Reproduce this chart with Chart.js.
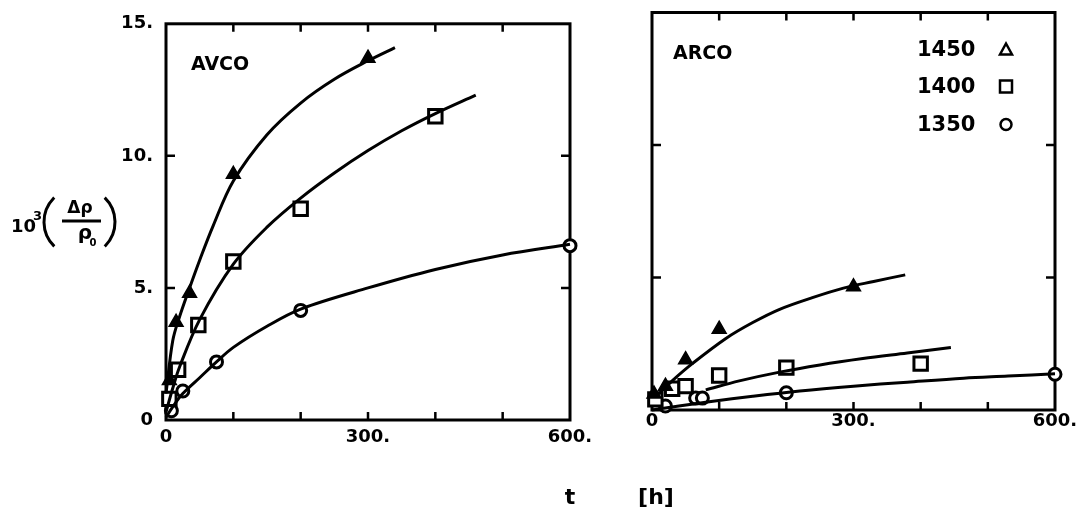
<!DOCTYPE html>
<html>
<head>
<meta charset="utf-8">
<script src="https://cdn.jsdelivr.net/npm/chart.js@4.4.1/dist/chart.umd.min.js"></script>
<style>
html,body{margin:0;padding:0;background:#fff;}
#wrap{position:relative;width:1086px;height:510px;background:#fff;}
#wrap canvas{position:absolute;left:0;top:0;}
</style>
</head>
<body>
<div id="wrap">
<canvas id="c1" width="1086" height="510"></canvas>
<canvas id="c2" width="1086" height="510"></canvas>
</div>
<script>
// ---------------- data ----------------
const seriesLabels = ['1450', '1400', '1350'];
const panelNames = ['AVCO', 'ARCO'];
const xTicks = [0, 100, 200, 300, 400, 500, 600];
const xTickLabels = ['0', '', '', '300.', '', '', '600.'];
const yTicks = [0, 5, 10, 15];
const yTickLabels = ['0', '5.', '10.', '15.'];

// AVCO measured points (t [h], 10^3 dRho/Rho0)
const avco1450T = [5, 15, 35, 100, 300];
const avco1450V = [1.5, 3.7, 4.8, 9.3, 13.7];
const avco1400T = [5, 18, 48, 100, 200, 400];
const avco1400V = [0.8, 1.9, 3.6, 6.0, 8.0, 11.5];
const avco1350T = [8, 25, 75, 200, 600];
const avco1350V = [0.35, 1.1, 2.2, 4.15, 6.6];
// AVCO fitted curves
const avcoFit1450T = [0, 10, 20, 35, 50, 70, 100, 150, 200, 250, 300, 340];
const avcoFit1450V = [1.0, 3.0, 3.9, 5.0, 6.05, 7.35, 9.05, 10.8, 12.0, 12.9, 13.6, 14.1];
const avcoFit1400T = [0, 10, 20, 50, 100, 150, 200, 250, 300, 350, 400, 460];
const avcoFit1400V = [0.3, 1.2, 2.0, 3.8, 5.9, 7.3, 8.4, 9.35, 10.2, 10.95, 11.6, 12.3];
const avcoFit1350T = [0, 10, 25, 50, 75, 100, 150, 200, 300, 400, 500, 600];
const avcoFit1350V = [0.1, 0.5, 1.0, 1.6, 2.2, 2.75, 3.55, 4.2, 5.0, 5.7, 6.25, 6.65];

// ARCO measured points
const arco1450T = [3, 20, 50, 100, 300];
const arco1450V = [0.6, 0.9, 1.9, 3.05, 4.65];
const arco1400T = [5, 30, 50, 100, 200, 400];
const arco1400V = [0.4, 0.8, 0.9, 1.3, 1.6, 1.75];
const arco1350T = [20, 65, 75, 200, 600];
const arco1350V = [0.15, 0.45, 0.45, 0.65, 1.35];
// ARCO fitted curves
const arcoFit1450T = [10, 30, 60, 110, 150, 190, 240, 285, 330, 377];
const arcoFit1450V = [0.6, 1.1, 1.75, 2.7, 3.3, 3.8, 4.25, 4.6, 4.85, 5.1];
const arcoFit1400T = [80, 130, 190, 250, 314, 380, 445];
const arcoFit1400V = [0.76, 1.1, 1.43, 1.7, 1.94, 2.15, 2.36];
const arcoFit1350T = [0, 40, 88, 150, 220, 300, 380, 464, 530, 600];
const arcoFit1350V = [0.0, 0.15, 0.32, 0.52, 0.72, 0.9, 1.05, 1.2, 1.28, 1.37];

// ---------------- helpers ----------------
const FONT = 'DejaVu Sans';
const xy = (ts, vs) => ts.map((t, i) => ({x: t, y: vs[i]}));

function curve(ts, vs) {
  return {type: 'scatter', data: xy(ts, vs), showLine: true, pointRadius: 0,
    borderColor: '#000', borderWidth: 3, tension: 0.35, clip: false};
}
function marks(ts, vs, style, label) {
  const base = {type: 'scatter', label: label, data: xy(ts, vs), showLine: false, clip: false,
    pointStyle: style, borderColor: '#000'};
  if (style === 'triangle') return Object.assign(base, {pointRadius: 8, backgroundColor: '#000', borderWidth: 1.5});
  if (style === 'rect') return Object.assign(base, {pointRadius: 9.5, backgroundColor: '#fff', borderWidth: 3});
  return Object.assign(base, {pointRadius: 6, backgroundColor: '#fff', borderWidth: 3});
}

const frame = {
  id: 'frame',
  beforeDatasetsDraw(chart) {
    const {ctx, chartArea: a, scales: {x, y}} = chart;
    ctx.save();
    ctx.strokeStyle = '#000';
    ctx.lineWidth = 3;
    ctx.strokeRect(a.left, a.top, a.right - a.left, a.bottom - a.top);
    ctx.lineWidth = 2.5;
    ctx.beginPath();
    xTicks.forEach(v => {
      if (v <= 0 || v >= 600) return;
      const px = x.getPixelForValue(v);
      ctx.moveTo(px, a.bottom); ctx.lineTo(px, a.bottom - 8);
      ctx.moveTo(px, a.top); ctx.lineTo(px, a.top + 8);
    });
    yTicks.forEach(v => {
      if (v <= 0 || v >= 15) return;
      const py = y.getPixelForValue(v);
      ctx.moveTo(a.left, py); ctx.lineTo(a.left + 9, py);
      ctx.moveTo(a.right, py); ctx.lineTo(a.right - 9, py);
    });
    ctx.stroke();
    ctx.restore();
  }
};

function scalesFor(area, xPad, showY) {
  return {
    x: {type: 'linear', min: 0, max: 600, position: 'bottom',
      afterBuildTicks: s => { s.ticks = xTicks.map(v => ({value: v})); },
      afterFit: s => { s.height = 50; },
      grid: {display: false, drawTicks: false}, border: {display: false},
      ticks: {autoSkip: false, maxRotation: 0, padding: xPad, color: '#000',
        font: {family: FONT, size: 18, weight: 'bold'},
        callback: (v) => { const i = xTicks.indexOf(v); return i >= 0 ? xTickLabels[i] : ''; }}},
    y: {type: 'linear', min: 0, max: 15, position: 'left', display: true,
      afterBuildTicks: s => { s.ticks = yTicks.map(v => ({value: v})); },
      afterFit: s => { s.width = area.left; },
      grid: {display: false, drawTicks: false}, border: {display: false},
      ticks: {display: showY, padding: 13, color: '#000', font: {family: FONT, size: 18, weight: 'bold'},
        callback: (v) => { const i = yTicks.indexOf(v); return i >= 0 ? yTickLabels[i] : ''; }}}
  };
}

function baseOptions(area, xPad, showY) {
  return {
    responsive: false, animation: false, devicePixelRatio: 1,
    layout: {padding: {left: 0, right: 1086 - area.right, top: area.top, bottom: 510 - area.bottom - 50}},
    plugins: {legend: {display: false}, tooltip: {enabled: false}, title: {display: false}},
    scales: scalesFor(area, xPad, showY)
  };
}

// ---------------- chart 1 : AVCO ----------------
const area1 = {left: 166, right: 570, top: 21, bottom: 420};
const avcoText = {
  id: 'avcoText',
  afterDraw(chart) {
    const {ctx, chartArea: a} = chart;
    ctx.save();
    ctx.fillStyle = '#000'; ctx.strokeStyle = '#000';
    ctx.font = 'bold 19px ' + FONT;
    ctx.textBaseline = 'middle'; ctx.textAlign = 'left';
    ctx.fillText(panelNames[0], a.left + 25, a.top + 41);
    // y-axis title 10^3 (Δρ / ρ0)
    ctx.textBaseline = 'alphabetic';
    ctx.font = 'bold 18px ' + FONT;
    ctx.fillText('10', 11, 232);
    ctx.font = 'bold 13px ' + FONT;
    ctx.fillText('3', 33, 220);
    ctx.lineWidth = 3;
    ctx.beginPath(); ctx.arc(78, 222, 34, Math.PI - 0.8, Math.PI + 0.8); ctx.stroke();
    ctx.beginPath(); ctx.arc(81, 222, 34, -0.8, 0.8); ctx.stroke();
    ctx.textAlign = 'center';
    ctx.font = 'bold 17px ' + FONT;
    ctx.fillText('Δρ', 80, 213);
    ctx.beginPath(); ctx.moveTo(62, 221); ctx.lineTo(101, 221); ctx.stroke();
    ctx.font = 'bold 20px ' + FONT;
    ctx.fillText('ρ', 85, 239);
    ctx.font = 'bold 10px ' + FONT;
    ctx.fillText('0', 93, 246);
    ctx.restore();
  }
};
new Chart(document.getElementById('c1'), {
  type: 'scatter',
  data: {datasets: [
    curve(avcoFit1450T, avcoFit1450V),
    curve(avcoFit1400T, avcoFit1400V),
    curve(avcoFit1350T, avcoFit1350V),
    marks(avco1450T, avco1450V, 'triangle', seriesLabels[0]),
    marks(avco1400T, avco1400V, 'rect', seriesLabels[1]),
    marks(avco1350T, avco1350V, 'circle', seriesLabels[2])
  ]},
  options: baseOptions(area1, 7, true),
  plugins: [frame, avcoText]
});

// ---------------- chart 2 : ARCO ----------------
const area2 = {left: 652, right: 1055, top: 10, bottom: 410};
const arcoText = {
  id: 'arcoText',
  afterDraw(chart) {
    const {ctx, chartArea: a} = chart;
    ctx.save();
    ctx.fillStyle = '#000'; ctx.strokeStyle = '#000';
    ctx.font = 'bold 19px ' + FONT;
    ctx.textBaseline = 'middle'; ctx.textAlign = 'left';
    ctx.fillText(panelNames[1], a.left + 21, a.top + 42);
    // legend
    ctx.font = 'bold 21px ' + FONT;
    const rows = [a.top + 37, a.top + 74, a.top + 112];
    const mx = a.left + 354;
    ctx.lineWidth = 2.5;
    seriesLabels.forEach((lab, i) => {
      const yy = rows[i];
      ctx.fillText(lab, a.left + 265, yy + 1);
      ctx.beginPath();
      if (i === 0) { ctx.moveTo(mx, yy - 6); ctx.lineTo(mx + 6, yy + 5); ctx.lineTo(mx - 6, yy + 5); ctx.closePath(); }
      else if (i === 1) { ctx.rect(mx - 6, yy - 6, 12, 12); }
      else { ctx.arc(mx, yy, 5.5, 0, Math.PI * 2); }
      ctx.stroke();
    });
    // shared x-axis title
    ctx.font = 'bold 22px ' + FONT;
    ctx.textAlign = 'center'; ctx.textBaseline = 'alphabetic';
    ctx.fillText('t', 570, 504);
    ctx.fillText('[h]', 656, 504);
    ctx.restore();
  }
};
new Chart(document.getElementById('c2'), {
  type: 'scatter',
  data: {datasets: [
    curve(arcoFit1450T, arcoFit1450V),
    curve(arcoFit1400T, arcoFit1400V),
    curve(arcoFit1350T, arcoFit1350V),
    marks(arco1450T, arco1450V, 'triangle', seriesLabels[0]),
    marks(arco1400T, arco1400V, 'rect', seriesLabels[1]),
    marks(arco1350T, arco1350V, 'circle', seriesLabels[2])
  ]},
  options: baseOptions(area2, 1, false),
  plugins: [frame, arcoText]
});
</script>
</body>
</html>
